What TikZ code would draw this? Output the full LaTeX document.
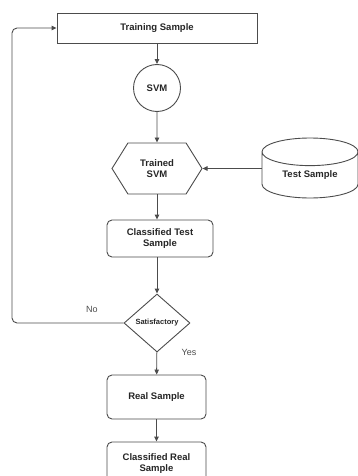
\documentclass[tikz,border=0pt]{standalone}
\usepackage{fontspec}
\setmainfont{Liberation Sans}
\usepackage{tikz}
\usetikzlibrary{shapes.geometric, shapes.symbols, arrows.meta, calc}

\tikzset{
  box/.style={draw=black!70, line width=0.9pt, fill=white, inner sep=0pt,
    font=\fontsize{9.5}{11}\selectfont\bfseries, text=black!85, align=center},
  roundbox/.style={box, rounded corners=5pt},
  flow/.style={draw=black!70, line width=0.9pt, -{Triangle[length=5pt,width=4.5pt]}},
  lbl/.style={font=\fontsize{9}{10}\selectfont, text=black!70}
}

\begin{document}
\begin{tikzpicture}[x=1pt,y=1pt,yscale=-1,xscale=1]
        \useasboundingbox (0,0) rectangle (358,476);

        %Training sample
        \node[box, minimum width=200, minimum height=30] (train) at (157,28) {Training Sample};
        %SVM
        \node[box, circle, minimum size=47] (svm) at (157,88) {SVM};
        %Trained SVM
        \node[box, signal, signal to=west and east, signal pointer angle=116,
              minimum width=90, minimum height=51] (tsvm) at (157,168.5) {Trained\\SVM};
        %Test sample
        \node[box, cylinder, shape border rotate=90, aspect=0.5, anchor=shape center,
              minimum width=96, minimum height=60] (test) at (310,168) {Test Sample};
        %Classified test sample
        \node[roundbox, minimum width=106, minimum height=37] (ctest) at (160,238.5) {Classified Test\\Sample};
        %Satisfactory
        \node[box, diamond, minimum width=66, minimum height=58,
              label={[font=\fontsize{7.5}{8}\selectfont\bfseries, text=black!85]center:Satisfactory}] (satis) at (157,323) {};
        %Real sample
        \node[roundbox, minimum width=99, minimum height=44] (real) at (156.5,397) {Real Sample};
        %Classified real sample
        \node[roundbox, minimum width=99, minimum height=44] (creal) at (156.5,464) {Classified Real\\Sample};

        %Connectors
        \draw[flow] (train) -- (svm);
        \draw[flow] (svm) -- (tsvm);
        \draw[flow] (test.west |- tsvm.east) -- (tsvm.east);
        \draw[flow] (tsvm.south) -- (tsvm.south |- ctest.north);
        \draw[flow] (ctest.south -| satis.north) -- (satis.north);
        \draw[flow] (satis) -- (real);
        \draw[flow] (real) -- (creal);
        \draw[flow, rounded corners=5pt] (satis.west) -- (12,323) -- (12,28) -- (train.west);

        %Labels
        \node[lbl] (no) at (92,309) {No};
        \node[lbl] (yes) at (189,352) {Yes};

    \end{tikzpicture}
\end{document}
